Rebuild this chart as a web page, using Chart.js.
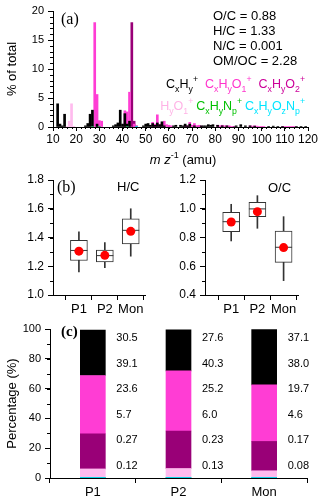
<!DOCTYPE html>
<html><head><meta charset="utf-8">
<script src="https://cdn.jsdelivr.net/npm/chart.js@4"></script>
<style>
html,body{margin:0;padding:0;background:#fff;width:320px;height:500px;overflow:hidden}
canvas{position:absolute}
</style></head><body>
<canvas id="ca" width="320" height="168" style="left:0px;top:0px"></canvas>
<canvas id="cb1" width="160" height="150" style="left:0px;top:165px"></canvas>
<canvas id="cb2" width="160" height="150" style="left:160px;top:165px"></canvas>
<canvas id="cc" width="320" height="185" style="left:0px;top:315px"></canvas>
<script>
// ---------- DATA ----------
// (a) mass spectrum, % of total, per ion family
const mzCxHy = [12,13,14,15,24,25,26,27,29,36,37,38,39,40,41,42,43,49,50,51,52,53,54,55,56,57,58,62,63,65,66,67,68,69,71,74,75,76,77,78,79,81,83,85,89,91,93,95,97,103,105,107,109,115,117,119];
const pctCxHy = [4.0,0.5,0.2,2.2,0.2,0.6,2.2,2.9,0.5,0.2,0.4,0.7,2.9,0.5,2.3,0.5,1.0,0.2,0.5,0.6,0.3,0.6,0.3,0.7,0.4,0.9,0.2,0.2,0.3,0.3,0.2,0.5,0.2,0.5,0.2,0.2,0.2,0.2,0.4,0.3,0.4,0.3,0.2,0.2,0.2,0.4,0.2,0.2,0.15,0.1,0.15,0.1,0.1,0.1,0.1,0.1];
const mzCxHyO1 = [28,29,30,31,41,42,43,45,53,54,55,56,57,58,59,60,61,67,68,69,70,71,72,73,81,82,83,84,85,86,87,95,96,97,98,99,100,101,109,110,111,112,113,114];
const pctCxHyO1 = [18.0,5.6,1.1,1.0,2.8,2.6,6.0,0.5,0.8,0.5,2.1,0.4,0.6,1.0,0.4,0.3,0.2,0.3,0.2,0.8,0.3,0.6,0.2,0.3,0.3,0.2,0.3,0.2,0.2,0.2,0.1,0.2,0.15,0.2,0.15,0.1,0.1,0.1,0.1,0.1,0.1,0.1,0.1,0.1];
const mzCxHyO2 = [44,45,46,60,72,73,74,86,88];
const pctCxHyO2 = [18.0,1.0,0.2,0.2,0.15,0.2,0.15,0.1,0.1];
const mzHyO1 = [16,17,18,19];
const pctHyO1 = [0.1,1.0,4.0,0.05];
const mzCxHyNp = [27,30,42];
const pctCxHyNp = [0.03,0.02,0.03];
const mzCxHyOzNp = [46];
const pctCxHyOzNp = [0.02];
const elementRatios = ['O/C = 0.88','H/C = 1.33','N/C = 0.001','OM/OC = 2.28'];
const familyNames = ['C_xH_y^+','C_xH_yO_1^+','C_xH_yO_2^+','H_yO_1^+','C_xH_yN_p^+','C_xH_yO_zN_p^+'];

// (b) box plots
const boxCats = ['P1','P2','Mon'];
const hcLow = [1.16,1.19,1.27], hcQ1 = [1.24,1.23,1.355], hcMed = [1.31,1.274,1.45], hcQ3 = [1.38,1.313,1.53], hcHigh = [1.44,1.364,1.60], hcMean = [1.305,1.276,1.443];
const ocLow = [0.776,0.864,0.50], ocQ1 = [0.841,0.945,0.627], ocMed = [0.91,0.999,0.732], ocQ3 = [0.975,1.045,0.845], ocHigh = [1.031,1.091,0.945], ocMean = [0.908,0.98,0.73];
const hcTicks = [1.0,1.8], ocTicks = [0.4,1.2];

// (c) stacked percentages
const periods = ['P1','P2','Mon'];
const shareCxHyOzNp = [0.12,0.13,0.08];
const shareCxHyNp = [0.27,0.23,0.17];
const shareHyO1 = [5.7,6.0,4.6];
const shareCxHyO2 = [23.6,25.2,19.7];
const shareCxHyO1 = [39.1,40.3,38.0];
const shareCxHy = [30.5,27.6,37.1];

// ---------- STYLE ----------
const FAMILY = '"Liberation Sans", Arial, Helvetica, sans-serif';
const SERIF = '"Liberation Serif", "Times New Roman", serif';
const COL = {cxhy:'#000000', o1:'#ff3dd4', o2:'#990077', hyo:'#ffbbee', n:'#22aa55', ozn:'#00ddff'};
const LEGCOL = ['#000000','#ff33cc','#cc0099','#ffb3e6','#00c000','#00e5ff'];
Chart.defaults.font.family = FAMILY;
Chart.defaults.color = '#000';
Chart.defaults.animation = false;

function formulaWidth(ctx, str, size){
  let w = 0;
  for (let i = 0; i < str.length; i++){
    let ch = str[i], mode = 'n';
    if (ch === '_' || ch === '^'){ mode = ch; ch = str[++i]; }
    ctx.font = (mode === 'n' ? size : size*0.7) + 'px ' + FAMILY;
    w += ctx.measureText(ch).width;
  }
  return w;
}
function drawFormula(ctx, str, x, y, size, color){
  ctx.save(); ctx.fillStyle = color; ctx.textBaseline = 'alphabetic'; ctx.textAlign = 'left';
  let cx = x;
  for (let i = 0; i < str.length; i++){
    let ch = str[i], mode = 'n';
    if (ch === '_' || ch === '^'){ mode = ch; ch = str[++i]; }
    const fs = mode === 'n' ? size : size*0.7;
    ctx.font = fs + 'px ' + FAMILY;
    const dy = mode === '_' ? size*0.28 : (mode === '^' ? -size*0.45 : 0);
    ctx.fillText(ch, cx, y + dy);
    cx += ctx.measureText(ch).width;
  }
  ctx.restore();
  return cx;
}
function minorTicks(axes){
  return {id:'minorTicks', afterDraw(chart){
    const ctx = chart.ctx; ctx.save(); ctx.strokeStyle = '#000'; ctx.lineWidth = 1;
    for (const id in axes){
      const sc = chart.scales[id], cfg = axes[id];
      const n = Math.round((sc.max - sc.min)/cfg.step);
      for (let k = 0; k <= n; k++){
        const p = Math.round(sc.getPixelForValue(sc.min + k*cfg.step)) + 0.5;
        ctx.beginPath();
        if (sc.axis === 'y'){ ctx.moveTo(sc.right - cfg.len, p); ctx.lineTo(sc.right, p); }
        else { ctx.moveTo(p, sc.top); ctx.lineTo(p, sc.top + cfg.len); }
        ctx.stroke();
      }
    }
    ctx.restore();
  }};
}
function texts(items, extra){
  return {id:'texts', afterDraw(chart){
    const ctx = chart.ctx;
    for (const it of items){
      ctx.save(); ctx.font = it.font; ctx.fillStyle = it.color || '#000';
      ctx.textAlign = it.align || 'left'; ctx.textBaseline = 'middle';
      ctx.fillText(it.text, it.x, it.y); ctx.restore();
    }
    if (extra) extra(chart, ctx);
  }};
}
const noPlug = {legend:{display:false}, tooltip:{enabled:false}};

// ---------- (a) ----------
function stick(mz, val, color, order){
  return {data: mz.map((m,i)=>({x:m, y:val[i]})), backgroundColor:color, barThickness:2, grouped:false, order};
}
new Chart(document.getElementById('ca'), {
  type:'bar',
  data:{datasets:[
    stick(mzCxHyO2, pctCxHyO2, COL.o2, 4),
    stick(mzCxHyO1, pctCxHyO1, COL.o1, 3),
    stick(mzHyO1, pctHyO1, COL.hyo, 2),
    stick(mzCxHy, pctCxHy, COL.cxhy, 1),
    stick(mzCxHyNp, pctCxHyNp, COL.n, 0),
    stick(mzCxHyOzNp, pctCxHyOzNp, COL.ozn, 0)
  ]},
  options:{
    responsive:false, devicePixelRatio:1,
    layout:{padding:{top:11,right:12,left:0,bottom:0}},
    plugins:noPlug,
    scales:{
      x:{type:'linear', min:10, max:120, offset:false,
        grid:{offset:false, drawOnChartArea:false, tickLength:4, tickColor:'#000'},
        border:{color:'#000'},
        ticks:{stepSize:10, autoSkip:false, maxRotation:0, padding:1, font:{size:12}},
        afterFit(s){ s.height = 41; }},
      y:{min:0, max:20,
        grid:{drawOnChartArea:false, tickLength:5, tickColor:'#000'},
        border:{color:'#000'},
        ticks:{stepSize:5, padding:4, font:{size:11}},
        title:{display:true, text:'% of total', font:{size:13}, padding:{top:5}},
        afterFit(s){ s.width = 53; }}
    }
  },
  plugins:[minorTicks({x:{step:2,len:2}, y:{step:1,len:3}}),
    texts([
      {text:'(a)', x:61, y:20, font:'16px '+SERIF},
      {text:elementRatios[0], x:213, y:16, font:'13px '+FAMILY},
      {text:elementRatios[1], x:213, y:31, font:'13px '+FAMILY},
      {text:elementRatios[2], x:213, y:46, font:'13px '+FAMILY},
      {text:elementRatios[3], x:213, y:61, font:'13px '+FAMILY}
    ], (chart, ctx)=>{
      const size = 12.5, right = 305;
      [[0,1,2,88,7],[3,4,5,110,3]].forEach(row=>{
        const idx = row.slice(0,3), y = row[3], gap = row[4];
        const ws = idx.map(i=>formulaWidth(ctx, familyNames[i], size));
        let x = right - (ws[0]+ws[1]+ws[2]+2*gap);
        idx.forEach((i,k)=>{ drawFormula(ctx, familyNames[i], x, y, size, LEGCOL[i]); x += ws[k] + gap; });
      });
      // x-axis title: m z^-1 (amu)
      ctx.save(); ctx.fillStyle = '#000'; ctx.textBaseline = 'alphabetic';
      const it = 'italic 13px ' + FAMILY, nm = '13px ' + FAMILY, sp = '9px ' + FAMILY;
      ctx.font = it; const w1 = ctx.measureText('m z').width;
      ctx.font = sp; const w2 = ctx.measureText('-1').width;
      ctx.font = nm; const w3 = ctx.measureText(' (amu)').width;
      let x = 183 - (w1+w2+w3)/2; const y = 164;
      ctx.font = it; ctx.fillText('m z', x, y); x += w1;
      ctx.font = sp; ctx.fillText('-1', x, y-6); x += w2;
      ctx.font = nm; ctx.fillText(' (amu)', x, y);
      ctx.restore();
    })]
});

// ---------- (b) ----------
function boxChart(id, low, q1, med, q3, high, mean, range, yWidth, padRight, labels){
  const pts = arr => boxCats.map((c,i)=>({x:i, y:arr[i]}));
  new Chart(document.getElementById(id), {
    type:'bar',
    data:{datasets:[
      {data: boxCats.map((c,i)=>({x:i, y:[low[i], high[i]]})), backgroundColor:'#333', barThickness:1, grouped:false, order:3},
      {data: boxCats.map((c,i)=>({x:i, y:[q1[i], q3[i]]})), backgroundColor:'#fff', borderColor:'#333', borderWidth:1, borderSkipped:false, barThickness:17, grouped:false, order:2},
      {type:'line', data: pts(med), showLine:false, pointStyle:'line', pointRadius:8.5, borderColor:'#333', borderWidth:1, order:1},
      {type:'line', data: pts(mean), showLine:false, pointStyle:'circle', pointRadius:4.5, backgroundColor:'#ff0000', borderColor:'#ff0000', borderWidth:0, order:0}
    ]},
    options:{
      responsive:false, devicePixelRatio:1,
      layout:{padding:{top:15,right:padRight,left:0,bottom:0}},
      plugins:noPlug,
      scales:{
        x:{type:'linear', min:-1, max:2.55, offset:false,
          afterBuildTicks(s){ s.ticks = [-0.5,0,0.5,1,1.5,2,2.5].map(v=>({value:v})); },
          ticks:{autoSkip:false, maxRotation:0, padding:2, font:{size:13},
            callback:v => Number.isInteger(v) ? boxCats[v] : ''},
          grid:{offset:false, drawOnChartArea:false, tickLength:5,
            tickColor: c => (c.tick && Number.isInteger(c.tick.value)) ? 'rgba(0,0,0,0)' : '#000'},
          border:{color:'#000'},
          afterFit(s){ s.height = 20; }},
        y:{min:range[0], max:range[1],
          ticks:{stepSize:0.2, padding:4, font:{size:12}, callback:v => Number(v).toFixed(1)},
          grid:{drawOnChartArea:false, tickLength:5, tickColor:'#000'},
          border:{color:'#000'},
          afterFit(s){ s.width = yWidth; }}
      }
    },
    plugins:[minorTicks({y:{step:0.1,len:3}}), texts(labels)]
  });
}
boxChart('cb1', hcLow, hcQ1, hcMed, hcQ3, hcHigh, hcMean, hcTicks, 53, 15,
  [{text:'(b)', x:57, y:23, font:'16px '+SERIF}, {text:'H/C', x:117, y:22, font:'13px '+FAMILY}]);
boxChart('cb2', ocLow, ocQ1, ocMed, ocQ3, ocHigh, ocMean, ocTicks, 45, 22,
  [{text:'O/C', x:108, y:23, font:'13px '+FAMILY}]);

// ---------- (c) ----------
const stackSeries = [
  {name:familyNames[5], vals:shareCxHyOzNp, color:COL.ozn},
  {name:familyNames[4], vals:shareCxHyNp, color:COL.n},
  {name:familyNames[3], vals:shareHyO1, color:COL.hyo},
  {name:familyNames[2], vals:shareCxHyO2, color:COL.o2},
  {name:familyNames[1], vals:shareCxHyO1, color:COL.o1},
  {name:familyNames[0], vals:shareCxHy, color:COL.cxhy}
];
const fmt = v => v >= 1 ? v.toFixed(1) : v.toFixed(2);
new Chart(document.getElementById('cc'), {
  type:'bar',
  data:{labels:periods, datasets: stackSeries.map(s=>({label:s.name, data:s.vals, backgroundColor:s.color, barThickness:25}))},
  options:{
    responsive:false, devicePixelRatio:1,
    layout:{padding:{top:14,right:13,left:0,bottom:0}},
    plugins:noPlug,
    scales:{
      x:{stacked:true, grid:{offset:true, drawOnChartArea:false, tickLength:5, tickColor:'#000'},
        border:{color:'#000'}, ticks:{padding:2, font:{size:13}},
        afterFit(s){ s.height = 22; }},
      y:{stacked:true, min:0, max:100,
        ticks:{stepSize:20, padding:4, font:{size:11}},
        grid:{drawOnChartArea:false, tickLength:5, tickColor:'#000'},
        border:{color:'#000'},
        title:{display:true, text:'Percentage (%)', font:{size:13}, padding:{top:5}},
        afterFit(s){ s.width = 50; }}
    }
  },
  plugins:[minorTicks({y:{step:10,len:3}}),
    texts([{text:'(c)', x:61, y:17, font:'bold 15px '+SERIF}], (chart, ctx)=>{
      const ys = chart.scales.y; const n = stackSeries.length;
      ctx.save(); ctx.font = '11px ' + FAMILY; ctx.fillStyle = '#000'; ctx.textBaseline = 'middle'; ctx.textAlign = 'left';
      periods.forEach((p,j)=>{
        const bar = chart.getDatasetMeta(n-1).data[j];
        const x = bar.x + bar.width/2 + 11;
        for (let r = 0; r < n; r++){
          const s = stackSeries[n-1-r];
          ctx.fillText(fmt(s.vals[j]), x, Math.round(ys.getPixelForValue(94 - r*17.2)));
        }
      });
      ctx.restore();
    })]
});
</script>
</body></html>
